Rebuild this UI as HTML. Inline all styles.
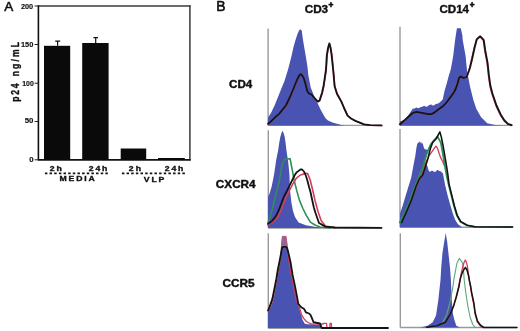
<!DOCTYPE html>
<html><head><meta charset="utf-8"><style>
html,body{margin:0;padding:0;background:#fff;overflow:hidden;width:520px;height:331px;}
svg{display:block;will-change:transform;}
text{font-family:"Liberation Sans",sans-serif;}
</style></head><body>
<svg width="520" height="331" viewBox="0 0 520 331">
<rect width="520" height="331" fill="#fff"/>
<text x="4.15" y="10.79" font-size="13.53" font-weight="normal" fill="#111" stroke="#111" stroke-width="0.6" stroke-linejoin="round">A</text>
<text x="216.23" y="10.82" font-size="13.89" font-weight="normal" fill="#111" stroke="#111" stroke-width="0.6" stroke-linejoin="round">B</text>
<text x="304.71" y="12.63" font-size="11.21" font-weight="bold" fill="#111" stroke="#111" stroke-width="0.4" stroke-linejoin="round" textLength="23.40" lengthAdjust="spacingAndGlyphs">CD3</text>
<text x="328.61" y="8.08" font-size="8.24" font-weight="bold" fill="#111" stroke="#111" stroke-width="0.6" stroke-linejoin="round">+</text>
<text x="439.44" y="12.63" font-size="11.21" font-weight="bold" fill="#111" stroke="#111" stroke-width="0.4" stroke-linejoin="round" textLength="29.63" lengthAdjust="spacingAndGlyphs">CD14</text>
<text x="469.84" y="8.27" font-size="8.24" font-weight="bold" fill="#111" stroke="#111" stroke-width="0.6" stroke-linejoin="round">+</text>
<text x="229.12" y="88.44" font-size="10.28" font-weight="bold" fill="#111" stroke="#111" stroke-width="0.4" stroke-linejoin="round" textLength="23.18" lengthAdjust="spacingAndGlyphs">CD4</text>
<text x="215.86" y="188.06" font-size="10.28" font-weight="bold" fill="#111" stroke="#111" stroke-width="0.4" stroke-linejoin="round" textLength="39.72" lengthAdjust="spacingAndGlyphs">CXCR4</text>
<text x="222.42" y="287.06" font-size="10.28" font-weight="bold" fill="#111" stroke="#111" stroke-width="0.4" stroke-linejoin="round" textLength="32.10" lengthAdjust="spacingAndGlyphs">CCR5</text>
<text x="21.00" y="8.72" font-size="7.75" font-weight="bold" fill="#111" stroke="#111" stroke-width="0.15" stroke-linejoin="round" textLength="12.16" lengthAdjust="spacingAndGlyphs">200</text>
<text x="20.96" y="46.50" font-size="7.75" font-weight="bold" fill="#111" stroke="#111" stroke-width="0.15" stroke-linejoin="round" textLength="12.33" lengthAdjust="spacingAndGlyphs">150</text>
<text x="22.22" y="85.87" font-size="7.75" font-weight="bold" fill="#111" stroke="#111" stroke-width="0.15" stroke-linejoin="round" textLength="11.51" lengthAdjust="spacingAndGlyphs">100</text>
<text x="24.74" y="123.13" font-size="7.75" font-weight="bold" fill="#111" stroke="#111" stroke-width="0.15" stroke-linejoin="round" textLength="8.70" lengthAdjust="spacingAndGlyphs">50</text>
<text x="29.37" y="162.22" font-size="7.75" font-weight="bold" fill="#111" stroke="#111" stroke-width="0.15" stroke-linejoin="round">0</text>
<text transform="translate(18.85,101.79) rotate(-90) scale(1,1.2)" font-size="8.60" font-weight="bold" fill="#111" stroke="#111" stroke-width="0.3" stroke-linejoin="round" textLength="18.38" lengthAdjust="spacing">p24</text>
<text transform="translate(18.64,76.35) rotate(-90) scale(1,1.2)" font-size="8.60" font-weight="bold" fill="#111" stroke="#111" stroke-width="0.3" stroke-linejoin="round" textLength="34.45" lengthAdjust="spacing">ng/mL</text>
<text transform="translate(49.86,170.87) scale(1.2,1)" font-size="7.23" font-weight="bold" fill="#111" stroke="#111" stroke-width="0.35" stroke-linejoin="round" textLength="9.92" lengthAdjust="spacing">2h</text>
<text transform="translate(88.86,170.91) scale(1.2,1)" font-size="7.23" font-weight="bold" fill="#111" stroke="#111" stroke-width="0.35" stroke-linejoin="round" textLength="15.44" lengthAdjust="spacing">24h</text>
<text transform="translate(128.80,170.72) scale(1.2,1)" font-size="7.23" font-weight="bold" fill="#111" stroke="#111" stroke-width="0.35" stroke-linejoin="round" textLength="10.25" lengthAdjust="spacing">2h</text>
<text transform="translate(164.80,170.94) scale(1.2,1)" font-size="7.23" font-weight="bold" fill="#111" stroke="#111" stroke-width="0.35" stroke-linejoin="round" textLength="15.45" lengthAdjust="spacing">24h</text>
<text transform="translate(59.53,181.06) scale(1.2,1)" font-size="7.23" font-weight="bold" fill="#111" stroke="#111" stroke-width="0.35" stroke-linejoin="round" textLength="29.46" lengthAdjust="spacing">MEDIA</text>
<text transform="translate(143.81,181.95) scale(1.2,1)" font-size="7.23" font-weight="bold" fill="#111" stroke="#111" stroke-width="0.35" stroke-linejoin="round" textLength="17.15" lengthAdjust="spacing">VLP</text>
<line x1="38.4" y1="6" x2="190.6" y2="6" stroke="#3a3a3a" stroke-width="1.6"/>
<line x1="189.9" y1="5.2" x2="189.9" y2="160.6" stroke="#3a3a3a" stroke-width="1.5"/>
<line x1="38.4" y1="5.2" x2="38.4" y2="160.5" stroke="#111" stroke-width="1.6"/>
<line x1="38.4" y1="159.9" x2="190.6" y2="159.9" stroke="#111" stroke-width="1.6"/>
<line x1="34.6" y1="6.0" x2="38.4" y2="6.0" stroke="#222" stroke-width="1"/>
<line x1="34.6" y1="44.5" x2="38.4" y2="44.5" stroke="#222" stroke-width="1"/>
<line x1="34.6" y1="83.2" x2="38.4" y2="83.2" stroke="#222" stroke-width="1"/>
<line x1="34.6" y1="121.5" x2="38.4" y2="121.5" stroke="#222" stroke-width="1"/>
<line x1="34.6" y1="159.8" x2="38.4" y2="159.8" stroke="#222" stroke-width="1"/>
<rect x="44" y="45.8" width="26.2" height="114" fill="#0a0a0a"/>
<rect x="82.2" y="43" width="26.4" height="117" fill="#0a0a0a"/>
<rect x="120.7" y="148.5" width="25.5" height="11.5" fill="#0a0a0a"/>
<rect x="158" y="158" width="26.8" height="2" fill="#0a0a0a"/>
<path d="M57.6 45.8 V41.2 M55.2 41.2 H60.2 M95.7 43 V37.7 M93.4 37.7 H98" stroke="#111" stroke-width="1.2" fill="none"/>
<line x1="44.9" y1="173.3" x2="108.3" y2="173.3" stroke="#111" stroke-width="1.7" stroke-dasharray="2.5 2.15"/>
<line x1="121.9" y1="173.3" x2="185.2" y2="173.3" stroke="#111" stroke-width="1.7" stroke-dasharray="2.5 2.15"/>
<line x1="268.1" y1="28.4" x2="268.1" y2="125.4" stroke="#9a9a9a" stroke-width="1.4"/>
<line x1="268.1" y1="125.4" x2="381.5" y2="125.4" stroke="#9a9a9a" stroke-width="1.4"/>
<polygon points="268.0,125.4 268.0,117.4 271.0,113.0 274.8,105.0 278.0,97.0 281.8,87.5 284.5,81.0 287.9,70.0 289.5,64.0 291.7,55.2 293.5,47.0 295.5,40.1 297.5,34.0 299.0,30.5 300.4,29.2 301.7,30.5 303.0,40.0 305.6,55.2 307.5,67.0 308.3,75.0 310.7,87.5 314.2,96.3 317.5,103.0 320.3,109.0 323.0,113.9 325.5,118.2 328.0,120.5 332.5,122.6 341.3,125.0 345.0,125.4" fill="#4853b2"/>
<polyline points="268.5,124.0 270.5,122.5 273.5,119.5 276.5,116.7 279.7,114.1 286.7,105.2 290.5,97.2 294.5,87.7 297.5,80.2 299.5,76.2 300.7,74.6 302.0,74.7 304.2,78.1 306.0,84.2 307.7,91.2 309.5,93.7 312.1,94.8 314.5,97.7 318.3,101.8 320.0,100.7 322.5,93.0 324.0,86.2 325.1,79.0 326.4,70.2 327.3,55.4 328.5,48.2 329.8,43.6 331.0,48.2 332.1,55.4 333.0,64.2 334.1,75.2 335.0,86.2 337.4,93.9 341.8,101.8 344.5,108.2 348.0,115.8 351.5,118.7 355.9,121.1 364.6,124.6 370.5,125.4 382.0,125.6" fill="none" stroke="#d43c5a" stroke-width="1.2" stroke-linejoin="round" stroke-linecap="round" />
<polyline points="268.0,123.8 270.0,122.3 273.0,119.3 276.0,116.5 279.2,113.9 286.2,105.0 290.0,97.0 294.0,87.5 297.0,80.0 299.0,76.0 300.2,74.4 301.5,74.5 303.7,77.9 305.5,84.0 307.2,91.0 309.0,93.5 311.6,94.6 314.0,97.5 317.8,101.6 319.5,100.5 322.0,92.8 323.5,86.0 324.6,78.8 325.9,70.0 326.8,55.2 328.0,48.0 329.3,43.4 330.5,48.0 331.6,55.2 332.5,64.0 333.6,75.0 334.5,86.0 336.9,93.7 341.3,101.6 344.0,108.0 347.5,115.6 351.0,118.5 355.4,120.9 364.1,124.4 370.0,125.2 381.5,125.4" fill="none" stroke="#141414" stroke-width="1.8" stroke-linejoin="round" stroke-linecap="round" />
<line x1="400.0" y1="26.8" x2="400.0" y2="125.4" stroke="#9a9a9a" stroke-width="1.4"/>
<line x1="400.0" y1="125.4" x2="511.7" y2="125.4" stroke="#9a9a9a" stroke-width="1.4"/>
<polygon points="400.0,125.4 400.0,121.5 403.0,120.5 406.5,118.0 409.6,113.4 411.5,110.5 412.7,108.8 414.5,108.5 416.5,107.6 418.5,108.2 420.4,107.2 422.3,106.8 424.2,105.7 425.8,106.8 427.3,106.5 429.2,105.0 431.2,104.5 432.7,105.6 434.2,105.3 435.8,104.0 437.3,103.8 439.0,103.0 440.4,101.8 442.7,99.5 444.5,91.0 447.1,82.3 448.9,75.3 450.6,70.0 451.8,64.0 453.3,55.2 455.1,40.1 456.9,28.3 460.8,28.3 462.4,35.6 462.7,40.0 464.5,50.0 465.6,56.0 467.1,71.6 470.2,87.2 473.3,99.7 476.4,109.0 481.0,117.0 487.2,123.2 495.0,125.0 502.6,125.4" fill="#4853b2"/>
<polyline points="399.4,124.5 401.9,122.3 404.4,120.2 409.0,116.0 412.1,113.3 415.9,112.1 419.8,112.9 423.6,113.7 427.5,114.5 430.6,114.5 433.6,112.9 436.7,110.6 439.8,108.3 442.9,106.0 445.9,102.8 449.2,98.3 453.5,92.3 455.4,88.3 457.0,83.5 458.4,78.3 460.3,76.7 462.9,78.3 466.1,77.3 468.6,70.6 469.6,67.3 471.7,58.5 474.0,48.0 476.2,39.7 477.7,38.3 479.4,36.6 480.9,37.8 483.2,40.4 484.7,51.0 487.0,63.1 488.3,75.3 489.8,86.1 491.9,94.1 495.9,105.8 500.2,115.0 503.9,120.8 507.4,124.1 511.1,125.5" fill="none" stroke="#d43c5a" stroke-width="1.2" stroke-linejoin="round" stroke-linecap="round" />
<polyline points="400.0,124.2 402.5,122.0 405.0,119.9 409.6,115.7 412.7,113.0 416.5,111.8 420.4,112.6 424.2,113.4 428.1,114.2 431.2,114.2 434.2,112.6 437.3,110.3 440.4,108.0 443.5,105.7 446.5,102.5 449.8,98.0 454.1,92.0 456.0,88.0 457.6,83.2 459.0,78.0 460.9,76.4 463.5,78.0 466.7,77.0 469.2,70.3 470.2,67.0 472.3,58.2 474.6,47.7 476.8,39.4 478.3,38.0 480.0,36.3 481.5,37.5 483.8,40.1 485.3,50.7 487.6,62.8 488.9,75.0 490.4,85.8 492.5,93.8 496.5,105.5 500.8,114.7 504.5,120.5 508.0,123.8 511.7,125.2" fill="none" stroke="#141414" stroke-width="1.8" stroke-linejoin="round" stroke-linecap="round" />
<line x1="268.3" y1="130.3" x2="268.3" y2="228" stroke="#9a9a9a" stroke-width="1.4"/>
<line x1="268.3" y1="228" x2="381.5" y2="228" stroke="#9a9a9a" stroke-width="1.4"/>
<polygon points="268.0,228.0 268.0,197.0 269.4,194.0 271.5,187.2 273.0,180.0 274.2,173.6 276.2,160.0 278.2,150.0 279.2,143.1 280.3,137.0 281.2,134.0 281.8,132.0 282.5,131.0 283.2,132.0 283.9,134.0 284.7,137.0 285.6,143.1 286.4,150.0 288.2,162.1 289.4,174.2 290.0,190.0 291.4,202.6 293.0,211.0 295.0,217.1 298.6,222.5 305.9,225.3 316.0,227.0 330.0,228.0" fill="#4853b2"/>
<polyline points="268.0,222.5 269.2,219.8 271.6,211.8 274.0,202.2 276.4,192.6 278.8,183.0 280.5,174.5 282.1,164.5 284.0,160.3 286.4,158.5 288.8,159.0 290.0,158.5 291.2,164.5 292.4,170.6 294.1,180.0 296.8,190.9 299.5,200.4 302.9,208.5 306.3,215.3 310.4,222.1 315.0,225.0 320.0,227.0 330.0,228.0" fill="none" stroke="#2f8f55" stroke-width="1.6" stroke-linejoin="round" stroke-linecap="round" />
<polyline points="268.0,224.8 270.0,223.8 274.0,221.4 278.0,216.6 281.2,210.2 283.6,203.8 286.0,197.4 289.2,191.0 292.4,184.6 296.4,178.2 300.4,175.0 302.2,174.5 305.3,173.3 307.7,173.6 310.2,180.0 312.8,190.5 315.0,200.4 318.0,211.5 321.1,220.5 325.4,226.0 335.0,227.8" fill="none" stroke="#d43c5a" stroke-width="1.6" stroke-linejoin="round" stroke-linecap="round" />
<polyline points="268.0,223.8 269.2,223.0 272.4,220.6 275.6,216.6 278.8,210.2 281.2,203.8 283.6,197.4 286.0,192.6 288.4,187.8 291.6,181.4 294.8,175.0 296.5,172.5 298.6,170.9 300.5,169.5 302.1,169.5 304.0,171.5 306.0,176.0 307.5,181.0 309.0,186.8 310.5,192.0 311.7,197.7 313.8,207.2 315.5,213.0 319.0,223.0 325.4,226.6 335.0,227.5 381.5,227.8" fill="none" stroke="#141414" stroke-width="1.8" stroke-linejoin="round" stroke-linecap="round" />
<line x1="400.0" y1="129.1" x2="400.0" y2="227.3" stroke="#9a9a9a" stroke-width="1.4"/>
<line x1="400.0" y1="227.3" x2="512.7" y2="227.3" stroke="#9a9a9a" stroke-width="1.4"/>
<polygon points="400.0,227.3 400.0,213.5 402.5,206.2 405.2,197.2 408.0,188.1 411.2,177.8 413.1,167.3 415.4,155.2 416.3,148.4 417.2,144.0 417.9,143.0 418.6,142.5 419.3,141.3 420.2,143.2 421.0,141.6 421.8,143.8 422.6,143.0 423.4,146.0 424.2,148.5 425.5,149.5 427.8,149.8 426.8,154.7 425.5,158.5 425.2,162.0 426.0,164.5 427.3,165.7 428.5,170.0 429.7,172.0 432.0,170.5 433.5,171.5 435.2,172.0 437.5,169.7 439.0,171.0 440.7,171.2 443.0,173.6 445.0,184.5 447.5,195.0 450.0,204.0 452.5,212.5 455.0,219.5 458.0,224.3 462.0,227.3" fill="#4853b2"/>
<polyline points="405.0,214.0 410.0,203.0 414.0,193.0 418.0,183.0 420.5,177.0 422.8,171.0 425.0,164.5 427.2,159.5 429.2,155.5 432.0,151.6 434.4,148.2 436.0,146.1 437.5,148.4 439.1,153.2 440.7,157.9 442.5,161.0 444.5,166.0" fill="none" stroke="#d43c5a" stroke-width="1.3" stroke-linejoin="round" stroke-linecap="round" />
<polyline points="399.8,222.5 405.2,211.7 410.7,199.0 414.3,188.1 418.5,177.5 420.6,171.5 421.8,170.5 424.2,162.6 426.5,154.7 428.9,148.4 431.2,143.7 434.4,139.8 437.5,136.6 440.7,142.2 442.2,150.0 443.8,159.4 445.4,168.9 446.5,175.2 448.5,184.0 451.3,195.0 454.0,206.0 456.8,215.3 460.3,221.6 466.7,225.3 475.0,226.9 512.5,227.1" fill="none" stroke="#2f8f55" stroke-width="1.8" stroke-linejoin="round" stroke-linecap="round" />
<polyline points="401.6,222.5 406.5,211.7 411.8,199.0 416.1,186.3 419.5,178.5 422.6,175.2 425.7,165.7 428.1,157.9 430.4,148.4 432.8,142.2 436.0,139.0 439.9,131.9 441.4,137.4 443.0,145.3 444.6,154.7 446.2,164.2 447.7,173.6 449.1,184.5 451.8,195.4 454.5,206.2 457.2,215.3 460.8,221.6 467.2,225.3 475.0,226.8 512.5,227.0" fill="none" stroke="#141414" stroke-width="1.6" stroke-linejoin="round" stroke-linecap="round" />
<line x1="268.3" y1="233.2" x2="268.3" y2="328.2" stroke="#9a9a9a" stroke-width="1.4"/>
<line x1="268.3" y1="328.2" x2="388" y2="328.2" stroke="#9a9a9a" stroke-width="1.4"/>
<polygon points="268.0,328.0 268.0,311.0 270.5,307.5 273.2,300.0 275.2,290.0 277.0,280.0 278.6,270.0 280.5,260.0 281.1,249.6 282.0,243.0 283.0,238.0 284.1,236.8 285.2,238.0 286.5,244.0 287.9,249.6 290.2,260.2 291.7,275.0 294.2,286.6 296.7,298.3 299.2,308.2 300.0,311.0 301.5,316.0 302.5,319.7 304.8,323.8 307.4,324.3 315.8,324.5 321.0,324.5 321.0,328.0" fill="#4853b2"/>
<polyline points="268.5,311.2 270.0,307.6 272.8,299.6 274.8,289.8 276.8,279.5 278.3,270.0 280.3,260.5 281.6,250.0 282.3,240.0 283.0,236.8 285.5,236.8 286.3,240.0 287.5,250.0 289.0,262.0 291.3,275.5 293.8,287.0 296.3,300.5 299.0,306.0 300.5,311.0 301.5,314.6 303.7,318.4 305.9,321.0 308.0,322.5 311.3,323.8 323.0,324.0 323.5,323.3 326.5,323.3 327.0,328.0 329.8,328.0 330.0,323.5 331.4,323.5 331.6,328.0 340.0,328.0" fill="none" stroke="#d43c5a" stroke-width="1.3" stroke-linejoin="round" stroke-linecap="round" />
<polygon points="282.3,236.3 286.1,236.3 287.2,247.5 281.3,247.5" fill="#94649a" stroke="#b0607a" stroke-width="0.8"/>
<polyline points="268.0,310.5 269.5,307.0 272.3,299.1 274.3,289.3 276.3,279.0 277.8,269.6 279.8,260.0 281.3,252.0 281.8,248.0 283.0,246.8 286.0,246.8 287.1,248.0 288.2,252.0 290.5,262.0 292.6,275.0 295.1,286.6 297.6,299.9 298.3,303.7 301.0,307.0 302.5,308.0 303.7,308.6 305.0,310.5 305.9,312.4 309.1,313.5 310.5,315.0 311.3,316.7 313.5,322.2 320.0,323.5 321.6,327.6 322.0,328.0 388.0,328.0" fill="none" stroke="#141414" stroke-width="1.8" stroke-linejoin="round" stroke-linecap="round" />
<line x1="400.3" y1="233.2" x2="400.3" y2="327.5" stroke="#9a9a9a" stroke-width="1.4"/>
<line x1="400.3" y1="327.5" x2="517" y2="327.5" stroke="#9a9a9a" stroke-width="1.4"/>
<polygon points="420.0,327.5 427.6,325.7 432.7,322.3 436.0,315.5 438.3,300.3 440.5,280.0 441.2,267.8 442.5,252.7 444.2,242.1 445.7,233.0 447.2,242.1 448.4,252.7 450.0,267.8 450.9,280.0 451.8,300.3 452.9,313.9 454.6,320.6 456.3,325.7 460.0,327.5" fill="#4853b2"/>
<polyline points="430.0,327.3 442.0,324.0 447.0,313.9 450.4,300.3 452.9,286.8 454.0,278.3 455.4,271.1 457.0,263.0 459.3,258.4 461.7,261.6 462.8,263.7 463.5,270.0 464.2,280.0 465.9,293.5 467.9,306.5 470.3,318.0 472.8,324.5 475.2,327.3 490.0,327.5" fill="none" stroke="#5fa57a" stroke-width="1.1" stroke-linejoin="round" stroke-linecap="round" />
<polyline points="445.0,322.8 450.0,314.5 453.5,306.0 456.0,297.5 458.6,287.0 460.0,280.0 461.5,272.0 463.3,264.8 464.4,261.6 465.4,260.0 466.5,262.7 467.5,266.9 468.4,274.0 469.3,280.0 470.6,287.5 471.4,292.8 473.6,303.5 475.0,313.5 477.2,321.5 480.5,326.0 483.5,327.5" fill="none" stroke="#d43c5a" stroke-width="1.3" stroke-linejoin="round" stroke-linecap="round" />
<polyline points="426.8,327.3 436.9,325.7 445.3,322.3 450.4,313.9 453.8,305.4 456.3,297.0 458.9,286.8 460.1,279.6 461.7,274.3 463.3,270.6 465.4,267.4 467.0,270.0 468.6,276.0 469.5,281.0 470.8,287.0 471.6,292.3 473.9,303.1 475.2,313.0 477.5,321.2 480.8,325.5 483.9,327.5 517.0,327.5" fill="none" stroke="#141414" stroke-width="1.5" stroke-linejoin="round" stroke-linecap="round" />
</svg>
</body></html>
